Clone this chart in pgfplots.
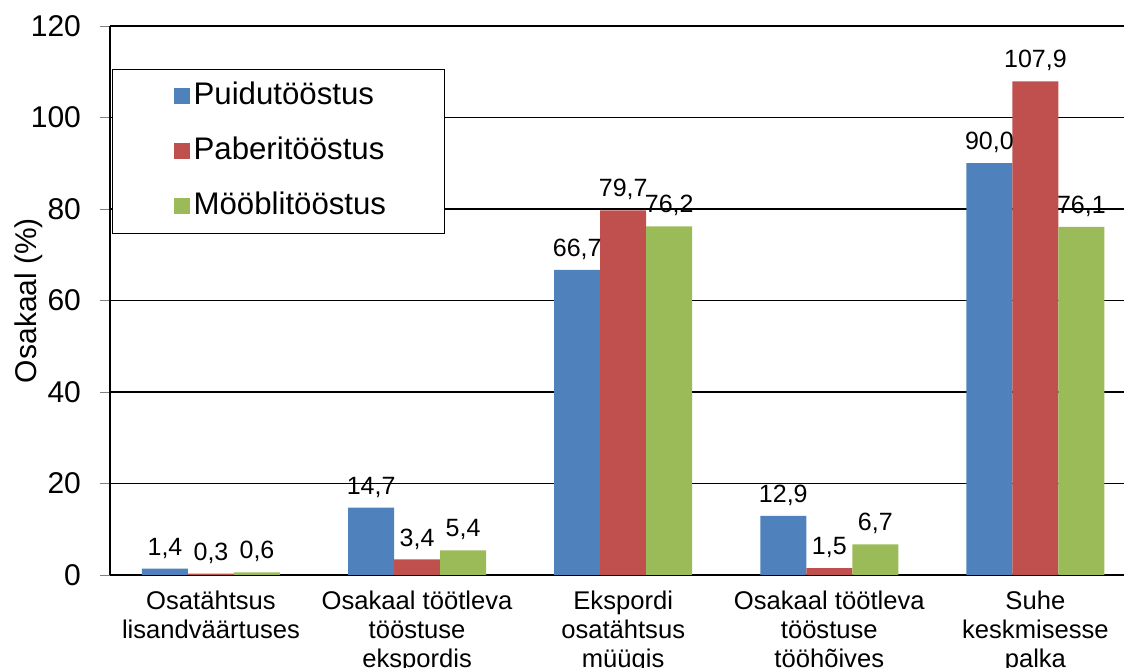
\documentclass[border=0pt]{standalone}
\usepackage{pgfplots}
\pgfplotsset{compat=1.18}
\usepackage{fontspec}
\setmainfont{Liberation Sans}
\definecolor{puit}{HTML}{4F81BD}
\definecolor{paber}{HTML}{C0504D}
\definecolor{moobel}{HTML}{9BBB59}

\begin{document}
\begin{tikzpicture}
\begin{axis}[
    scale only axis,
    width=507pt, height=274.5pt,
    ybar=0pt, bar width=23pt,
    xmin=-0.49, xmax=4.43,
    ymin=0, ymax=120,
    ytick={0,20,...,120},
    xtick={0,...,4},
    xticklabels={
        Osatähtsus\\lisandväärtuses,
        Osakaal töötleva\\tööstuse\\ekspordis,
        Ekspordi\\osatähtsus\\müügis,
        Osakaal töötleva\\tööstuse\\tööhõives,
        Suhe\\keskmisesse\\palka},
    x tick label style={align=center, font=\fontsize{12.8}{14.5}\selectfont, inner sep=0pt, yshift=-3pt},
    y tick label style={font=\fontsize{15}{18}\selectfont, xshift=-6pt},
    /pgf/number format/assume math mode=true,
    major x tick style={draw=none},
    tick align=outside,
    major tick length=5pt,
    axis x line*=bottom, axis y line*=left,
    axis line style={line width=0.8pt, -},
    ymajorgrids, grid style={black, line width=0.6pt},
    ylabel={Osakaal (\%)},
    ylabel style={font=\fontsize{15}{18}\selectfont, at={(axis description cs:-0.08,0.5)}, anchor=center},
    nodes near coords={\pgfmathprintnumber[fixed, fixed zerofill, precision=1, use comma]{\pgfplotspointmeta}},
    nodes near coords style={font=\fontsize{12.5}{14}\selectfont, inner sep=0pt, text depth=0pt, anchor=south, yshift=6.5pt},
    legend image code/.code={\path (0pt,0pt); \fill[#1] (3.5pt,-4pt) rectangle (11.5pt,4pt);},
    legend cell align=left,
    legend style={at={(0.002,0.922)}, anchor=north west, draw=black, line width=0.6pt,
        font=\fontsize{15.6}{18}\selectfont, inner xsep=27pt, inner ysep=4.5pt, row sep=9.5pt,
        nodes={inner sep=2pt, text height=11pt, text depth=3pt},
        /tikz/every even column/.append style={column sep=3.5pt}},
]
\addplot[fill=puit, draw=none] coordinates {(0,1.4) (1,14.7) (2,66.7) (3,12.9) (4,90.0)};
\addplot[fill=paber, draw=none] coordinates {(0,0.3) (1,3.4) (2,79.7) (3,1.5) (4,107.9)};
\addplot[fill=moobel, draw=none] coordinates {(0,0.6) (1,5.4) (2,76.2) (3,6.7) (4,76.1)};
\legend{Puidutööstus, Paberitööstus, Mööblitööstus}
\end{axis}
\pgfresetboundingbox
\path[use as bounding box] ([shift={(-55pt,-46.5pt)}]current axis.south west) rectangle ([shift={(0pt,13pt)}]current axis.north east);
\end{tikzpicture}
\end{document}
